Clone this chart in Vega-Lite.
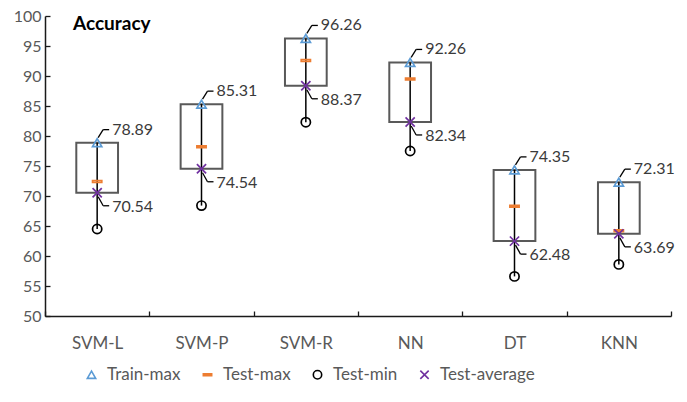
{
  "$schema": "https://vega.github.io/schema/vega-lite/v6.json",
  "autosize": {"type": "none"},
  "padding": {"left": 45, "top": 16, "right": 16, "bottom": 86},
  "width": 626,
  "height": 300,
  "background": "white",
  "config": {
    "font": "Lato",
    "view": {"stroke": null},
    "axis": {"labelFont": "Lato", "labelColor": "#595959", "domainColor": "#1a1a1a", "tickColor": "#1a1a1a", "grid": false, "title": null},
    "legend": {"labelFont": "Lato"}
  },
  "title": {"text": "Accuracy", "anchor": "start", "orient": "top", "offset": -26, "dx": 28, "fontSize": 19, "fontWeight": "bold", "color": "#000000", "font": "Lato", "frame": "group"},
  "data": {
    "values": [
      {"model": "SVM-L", "Train-max": 78.89, "Test-max": 72.4, "Test-min": 64.5, "Test-average": 70.54},
      {"model": "SVM-P", "Train-max": 85.31, "Test-max": 78.2, "Test-min": 68.4, "Test-average": 74.54},
      {"model": "SVM-R", "Train-max": 96.26, "Test-max": 92.6, "Test-min": 82.3, "Test-average": 88.37},
      {"model": "NN", "Train-max": 92.26, "Test-max": 89.5, "Test-min": 77.5, "Test-average": 82.34},
      {"model": "DT", "Train-max": 74.35, "Test-max": 68.3, "Test-min": 56.6, "Test-average": 62.48},
      {"model": "KNN", "Train-max": 72.31, "Test-max": 64.2, "Test-min": 58.6, "Test-average": 63.69}
    ]
  },
  "encoding": {
    "x": {
      "field": "model", "type": "nominal", "sort": null,
      "scale": {"paddingInner": 0, "paddingOuter": 0},
      "axis": {"labelAngle": 0, "labelFontSize": 17, "labelPadding": 24, "tickBand": "extent", "tickSize": -5, "tickWidth": 1.3, "domainWidth": 1.5}
    }
  },
  "layer": [
    {
      "mark": {"type": "bar", "fill": "transparent", "stroke": "#595959", "strokeWidth": 2, "width": {"band": 0.4}},
      "encoding": {
        "y": {"field": "Test-average", "type": "quantitative", "scale": {"domain": [50, 100], "nice": false, "zero": false},
          "axis": {"values": [50, 55, 60, 65, 70, 75, 80, 85, 90, 95, 100], "tickCount": 11, "labelOverlap": false, "labelFontSize": 16, "tickSize": -5, "tickWidth": 1.3, "labelPadding": 9, "domainWidth": 1.5}},
        "y2": {"field": "Train-max"}
      }
    },
    {
      "mark": {"type": "rule", "color": "#000000", "strokeWidth": 1.5},
      "encoding": {
        "y": {"field": "Test-min", "type": "quantitative", "scale": {"domain": [50, 100], "nice": false, "zero": false},
          "axis": {"values": [50, 55, 60, 65, 70, 75, 80, 85, 90, 95, 100], "tickCount": 11, "labelOverlap": false, "labelFontSize": 16, "tickSize": -5, "tickWidth": 1.3, "labelPadding": 9, "domainWidth": 1.5}},
        "y2": {"field": "Train-max"}
      }
    },
    {
      "transform": [{"fold": ["Train-max", "Test-max", "Test-min", "Test-average"], "as": ["series", "value"]}],
      "mark": {"type": "point", "filled": false, "strokeWidth": 1.7, "size": 85, "opacity": 1},
      "encoding": {
        "y": {"field": "value", "type": "quantitative", "scale": {"domain": [50, 100], "nice": false, "zero": false},
          "axis": {"values": [50, 55, 60, 65, 70, 75, 80, 85, 90, 95, 100], "tickCount": 11, "labelOverlap": false, "labelFontSize": 16, "tickSize": -5, "tickWidth": 1.3, "labelPadding": 9, "domainWidth": 1.5}},
        "color": {"field": "series", "type": "nominal",
          "scale": {"domain": ["Train-max", "Test-max", "Test-min", "Test-average"], "range": ["#5B9BD5", "#ED7D31", "#000000", "#7030A0"]},
          "legend": {"title": null, "orient": "none", "direction": "horizontal", "legendX": 38, "legendY": 350, "labelFontSize": 17, "labelColor": "#595959", "symbolSize": 70, "symbolStrokeWidth": 1.6, "labelOffset": 7, "columnPadding": 18}},
        "shape": {"field": "series", "type": "nominal",
          "scale": {"domain": ["Train-max", "Test-max", "Test-min", "Test-average"], "range": ["triangle-up", "M-1,-0.2L1,-0.2L1,0.2L-1,0.2Z", "circle", "M-1,-1L1,1M-1,1L1,-1"]},
          "legend": null}
      }
    },
    {
      "mark": {"type": "rule", "color": "#000000", "strokeWidth": 1.3, "xOffset": 1, "yOffset": -5, "x2Offset": 6, "y2Offset": -13},
      "encoding": {"y": {"field": "Train-max", "type": "quantitative", "axis": {"values": [50, 55, 60, 65, 70, 75, 80, 85, 90, 95, 100], "tickCount": 11, "labelOverlap": false, "labelFontSize": 16, "tickSize": -5, "tickWidth": 1.3, "labelPadding": 9, "domainWidth": 1.5}}, "y2": {"field": "Train-max"}, "x2": {"field": "model"}}
    },
    {
      "mark": {"type": "rule", "color": "#000000", "strokeWidth": 1.3, "xOffset": 6, "yOffset": -13, "x2Offset": 12, "y2Offset": -13},
      "encoding": {"y": {"field": "Train-max", "type": "quantitative", "axis": {"values": [50, 55, 60, 65, 70, 75, 80, 85, 90, 95, 100], "tickCount": 11, "labelOverlap": false, "labelFontSize": 16, "tickSize": -5, "tickWidth": 1.3, "labelPadding": 9, "domainWidth": 1.5}}, "y2": {"field": "Train-max"}, "x2": {"field": "model"}}
    },
    {
      "mark": {"type": "text", "align": "left", "baseline": "middle", "dx": 15, "dy": -13, "fontSize": 16, "color": "#3a3a3a"},
      "encoding": {"y": {"field": "Train-max", "type": "quantitative", "axis": {"values": [50, 55, 60, 65, 70, 75, 80, 85, 90, 95, 100], "tickCount": 11, "labelOverlap": false, "labelFontSize": 16, "tickSize": -5, "tickWidth": 1.3, "labelPadding": 9, "domainWidth": 1.5}}, "text": {"field": "Train-max", "type": "quantitative", "format": ".2f"}}
    },
    {
      "mark": {"type": "rule", "color": "#000000", "strokeWidth": 1.3, "xOffset": 1, "yOffset": 4, "x2Offset": 6, "y2Offset": 13},
      "encoding": {"y": {"field": "Test-average", "type": "quantitative", "axis": {"values": [50, 55, 60, 65, 70, 75, 80, 85, 90, 95, 100], "tickCount": 11, "labelOverlap": false, "labelFontSize": 16, "tickSize": -5, "tickWidth": 1.3, "labelPadding": 9, "domainWidth": 1.5}}, "y2": {"field": "Test-average"}, "x2": {"field": "model"}}
    },
    {
      "mark": {"type": "rule", "color": "#000000", "strokeWidth": 1.3, "xOffset": 6, "yOffset": 13, "x2Offset": 12, "y2Offset": 13},
      "encoding": {"y": {"field": "Test-average", "type": "quantitative", "axis": {"values": [50, 55, 60, 65, 70, 75, 80, 85, 90, 95, 100], "tickCount": 11, "labelOverlap": false, "labelFontSize": 16, "tickSize": -5, "tickWidth": 1.3, "labelPadding": 9, "domainWidth": 1.5}}, "y2": {"field": "Test-average"}, "x2": {"field": "model"}}
    },
    {
      "mark": {"type": "text", "align": "left", "baseline": "middle", "dx": 15, "dy": 14, "fontSize": 16, "color": "#3a3a3a"},
      "encoding": {"y": {"field": "Test-average", "type": "quantitative", "axis": {"values": [50, 55, 60, 65, 70, 75, 80, 85, 90, 95, 100], "tickCount": 11, "labelOverlap": false, "labelFontSize": 16, "tickSize": -5, "tickWidth": 1.3, "labelPadding": 9, "domainWidth": 1.5}}, "text": {"field": "Test-average", "type": "quantitative", "format": ".2f"}}
    }
  ]
}
